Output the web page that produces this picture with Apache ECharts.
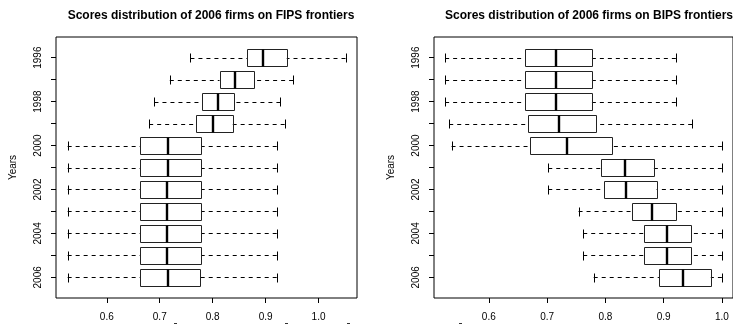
<!DOCTYPE html>
<html>
<head>
<meta charset="utf-8">
<script src="https://cdn.jsdelivr.net/npm/echarts@6/dist/echarts.min.js"></script>
<style>html,body{margin:0;padding:0;background:#fff;}#c{width:733px;height:325px;}</style>
</head>
<body>
<div id="c"></div>
<script>
const years = ['1996','1997','1998','1999','2000','2001','2002','2003','2004','2005','2006'];
const xTickValues = [0.6, 0.7, 0.8, 0.9, 1.0];
const yTickValues = [1,2,3,4,5,6,7,8,9,10,11];
const yLabelValues = [1,3,5,7,9,11];

// FIPS frontiers
const fipsMin = [0.758, 0.719, 0.690, 0.680, 0.526, 0.526, 0.526, 0.526, 0.526, 0.526, 0.526];
const fipsQ1  = [0.865, 0.813, 0.780, 0.768, 0.663, 0.663, 0.663, 0.663, 0.663, 0.663, 0.663];
const fipsMed = [0.895, 0.843, 0.810, 0.800, 0.715, 0.715, 0.714, 0.714, 0.714, 0.714, 0.715];
const fipsQ3  = [0.940, 0.879, 0.841, 0.838, 0.778, 0.778, 0.778, 0.778, 0.778, 0.778, 0.777];
const fipsMax = [1.051, 0.952, 0.928, 0.936, 0.921, 0.921, 0.921, 0.921, 0.921, 0.921, 0.921];

// BIPS frontiers
const bipsMin = [0.525, 0.525, 0.525, 0.532, 0.536, 0.702, 0.702, 0.754, 0.762, 0.762, 0.780];
const bipsQ1  = [0.662, 0.662, 0.662, 0.667, 0.670, 0.793, 0.797, 0.846, 0.867, 0.867, 0.892];
const bipsMed = [0.715, 0.715, 0.715, 0.720, 0.734, 0.833, 0.835, 0.880, 0.906, 0.906, 0.934];
const bipsQ3  = [0.777, 0.777, 0.777, 0.784, 0.811, 0.883, 0.888, 0.921, 0.947, 0.947, 0.981];
const bipsMax = [0.921, 0.921, 0.921, 0.949, 1.000, 1.000, 1.000, 1.000, 1.000, 1.000, 1.000];

const FONT = 'Liberation Sans, Arial, Helvetica, sans-serif';

function rows(mn, q1, md, q3, mx) {
  return years.map((y, i) => [i + 1, mn[i], q1[i], md[i], q3[i], mx[i]]);
}

function px(v) { return Math.round(v) + 0.5; }

function renderBox(params, api) {
  const yv = api.value(0);
  const pMin = api.coord([api.value(1), yv]);
  const pQ1 = api.coord([api.value(2), yv]);
  const pMed = api.coord([api.value(3), yv]);
  const pQ3 = api.coord([api.value(4), yv]);
  const pMax = api.coord([api.value(5), yv]);
  const half = api.size([0, 0.4])[1];
  const capHalf = api.size([0, 0.2])[1];
  const cy = pMed[1];
  const top = px(cy - half), bot = px(cy + half);
  const dash = { stroke: '#000', lineWidth: 1, lineDash: [4, 4], fill: null };
  const solid = { stroke: '#000', lineWidth: 1, fill: null };
  return {
    type: 'group',
    children: [
      { type: 'line', shape: { x1: pMin[0], y1: px(cy), x2: pQ1[0], y2: px(cy) }, style: dash },
      { type: 'line', shape: { x1: pMax[0], y1: px(cy), x2: pQ3[0], y2: px(cy) }, style: dash },
      { type: 'line', shape: { x1: px(pMin[0]), y1: px(cy - capHalf), x2: px(pMin[0]), y2: px(cy + capHalf) }, style: solid },
      { type: 'line', shape: { x1: px(pMax[0]), y1: px(cy - capHalf), x2: px(pMax[0]), y2: px(cy + capHalf) }, style: solid },
      { type: 'rect', shape: { x: px(pQ1[0]), y: top, width: Math.round(pQ3[0]) - Math.round(pQ1[0]), height: bot - top }, style: { stroke: '#222', lineWidth: 1, fill: 'rgba(255,255,255,0)' } },
      { type: 'line', shape: { x1: Math.round(pMed[0]), y1: top, x2: Math.round(pMed[0]), y2: bot }, style: { stroke: '#000', lineWidth: 2.4 } }
    ]
  };
}

function xAxisCfg(gi, mn, mx) {
  return {
    gridIndex: gi, type: 'value', min: mn, max: mx,
    axisLine: { show: false },
    axisTick: { show: true, customValues: xTickValues, length: 5, lineStyle: { color: '#000', width: 1 } },
    axisLabel: { customValues: xTickValues, formatter: v => v.toFixed(1), margin: 14, fontSize: 10, color: '#000', fontFamily: FONT },
    splitLine: { show: false }
  };
}
function yAxisCfg(gi) {
  return {
    gridIndex: gi, type: 'value', min: 0.06, max: 11.94, inverse: true,
    axisLine: { show: false },
    axisTick: { show: true, customValues: yTickValues, length: 5, lineStyle: { color: '#000', width: 1 } },
    axisLabel: { customValues: yLabelValues, formatter: v => years[Math.round(v) - 1], rotate: 90, margin: 13, fontSize: 10, color: '#000', fontFamily: FONT },
    splitLine: { show: false },
    name: 'Years', nameLocation: 'middle', nameGap: 38,
    nameTextStyle: { fontSize: 10, color: '#000', fontFamily: FONT }
  };
}

const chart = echarts.init(document.getElementById('c'), null, { renderer: 'canvas' });
chart.setOption({
  animation: false,
  backgroundColor: '#fff',
  title: [
    { text: 'Scores distribution of 2006 firms on FIPS frontiers', left: 206, top: 5, textAlign: 'center',
      textStyle: { fontSize: 12, fontWeight: 'bold', color: '#000', fontFamily: FONT } },
    { text: 'Scores distribution of 2006 firms on BIPS frontiers', left: 584, top: 5, textAlign: 'center',
      textStyle: { fontSize: 12, fontWeight: 'bold', color: '#000', fontFamily: FONT } }
  ],
  grid: [
    { left: 56, top: 37, width: 301, height: 261, show: true, borderColor: '#000', borderWidth: 1, backgroundColor: 'transparent' },
    { left: 434, top: 37, width: 300, height: 261, show: true, borderColor: '#000', borderWidth: 1, backgroundColor: 'transparent' }
  ],
  xAxis: [xAxisCfg(0, 0.504, 1.0727), xAxisCfg(1, 0.5059, 1.0191)],
  yAxis: [yAxisCfg(0), yAxisCfg(1)],
  series: [
    { type: 'custom', xAxisIndex: 0, yAxisIndex: 0, renderItem: renderBox, encode: { x: [1,2,3,4,5], y: 0 }, data: rows(fipsMin, fipsQ1, fipsMed, fipsQ3, fipsMax), silent: true },
    { type: 'custom', xAxisIndex: 1, yAxisIndex: 1, renderItem: renderBox, encode: { x: [1,2,3,4,5], y: 0 }, data: rows(bipsMin, bipsQ1, bipsMed, bipsQ3, bipsMax), silent: true }
  ],
  graphic: [
    { type: 'rect', shape: { x: 174, y: 323, width: 3, height: 1 }, style: { fill: '#333' } },
    { type: 'rect', shape: { x: 285, y: 323, width: 3, height: 1 }, style: { fill: '#333' } },
    { type: 'rect', shape: { x: 347, y: 323, width: 3, height: 1 }, style: { fill: '#333' } },
    { type: 'rect', shape: { x: 459, y: 323, width: 3, height: 1 }, style: { fill: '#333' } }
  ]
});
</script>
</body>
</html>
